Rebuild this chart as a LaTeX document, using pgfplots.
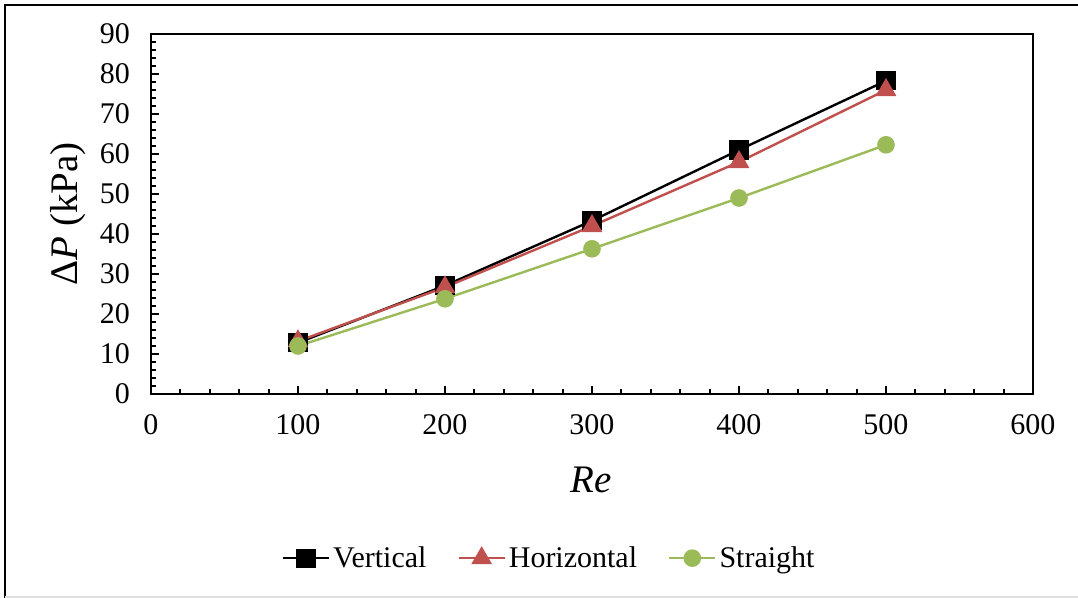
\documentclass[border=0pt]{standalone}
\usepackage{fontspec}
\setmainfont{Liberation Serif}
\usepackage{pgfplots}
\pgfplotsset{compat=1.18}
\definecolor{cred}{HTML}{C0504D}
\definecolor{cgreen}{HTML}{9BBB59}
\begin{document}
\begin{tikzpicture}
\useasboundingbox (0pt,0pt) rectangle (539pt,-299pt);
\draw[line width=1pt,black] (2.5pt,-299pt) -- (2.5pt,-2.5pt) -- (539pt,-2.5pt);
\draw[line width=0.8pt,black!12] (2.5pt,-298.5pt) -- (539pt,-298.5pt);
\begin{axis}[
  scale only axis,
  width=441pt, height=180pt,
  at={(75.5pt,-197pt)}, anchor=south west,
  xmin=0, xmax=600, ymin=0, ymax=90,
  xtick={0,100,...,600}, ytick={0,10,...,90},
  minor x tick num=4, minor y tick num=4,
  tick align=inside,
  xtick pos=bottom, ytick pos=left,
  major tick length=4pt, minor tick length=2.5pt,
  tick style={black, line width=1pt},
  axis line style={line width=1pt},
  /pgf/number format/assume math mode=true,
  ticklabel style={font=\fontsize{15}{17}\selectfont},
  xticklabel style={yshift=-6.5pt},
  yticklabel style={xshift=-7pt},
  xlabel={\textit{Re}},
  ylabel={Δ\textit{P} (kPa)},
  xlabel style={font=\fontsize{19.5}{22}\selectfont, at={(rel axis cs:0.499,-0.239)}, anchor=center},
  ylabel style={font=\fontsize{19.5}{22}\selectfont, at={(rel axis cs:-0.094,0.5)}, anchor=center},
  legend style={draw=none, fill=none, at={(rel axis cs:0.452,-0.456)}, anchor=center,
    font=\fontsize{15}{17}\selectfont, legend columns=-1,
    /tikz/every even column/.append style={column sep=14pt},
    /tikz/every odd column/.append style={column sep=0pt},
    nodes={inner sep=1.5pt}},
  legend image code/.code={
    \draw[mark repeat=2,mark phase=2,#1] plot coordinates {(0pt,0pt) (11.5pt,0pt) (23pt,0pt)};},
]
\addplot[black, line width=1.2pt, mark=square*, mark size=4.2pt, mark options={solid}]
  coordinates {(100,12.8) (200,27.1) (300,43.3) (400,61.0) (500,78.3)};
\addlegendentry{Vertical}
\addplot[cred, line width=1.2pt, mark=triangle*, mark size=4.8pt, mark options={solid}]
  coordinates {(100,13.2) (200,26.7) (300,42.0) (400,58.0) (500,76.0)};
\addlegendentry{Horizontal}
\addplot[cgreen, line width=1.2pt, mark=*, mark size=3.8pt, mark options={solid}]
  coordinates {(100,12.0) (200,23.8) (300,36.3) (400,49.0) (500,62.3)};
\addlegendentry{Straight}
\end{axis}
\end{tikzpicture}
\end{document}
